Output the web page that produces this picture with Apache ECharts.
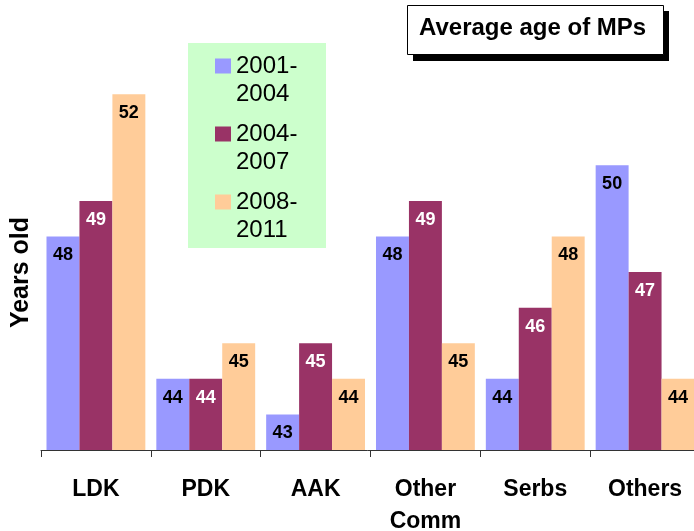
<!DOCTYPE html>
<html>
<head>
<meta charset="utf-8">
<script src="https://cdn.jsdelivr.net/npm/echarts@6/dist/echarts.min.js"></script>
<style>
  html, body { margin: 0; padding: 0; background: #fff; }
  #chart { width: 694px; height: 531px; }
</style>
</head>
<body>
<div id="chart"></div>
<script>
var categories = ['LDK', 'PDK', 'AAK', 'Other\nComm', 'Serbs', 'Others'];
var periods = ['2001-2004', '2004-2007', '2008-2011'];
var age2001 = [48, 44, 43, 48, 44, 50];
var age2004 = [49, 44, 45, 49, 46, 47];
var age2008 = [52, 45, 44, 45, 48, 44];
var colors = ['#9999FF', '#993366', '#FFCC99'];
var labelColors = ['#000', '#fff', '#000'];

var chart = echarts.init(document.getElementById('chart'));

var seriesData = [age2001, age2004, age2008];
var series = [];
for (var i = 0; i < periods.length; i++) {
  series.push({
    name: periods[i],
    type: 'bar',
    data: seriesData[i],
    barGap: '0%',
    barCategoryGap: '10%',
    itemStyle: { color: colors[i] },
    label: {
      show: true,
      position: 'insideTop',
      distance: 10,
      color: labelColors[i],
      fontFamily: 'Liberation Sans',
      fontWeight: 'bold',
      fontSize: 18
    }
  });
}

var option = {
  animation: false,
  color: colors,
  title: {
    text: 'Average age of MPs',
    left: 419,
    top: 16,
    padding: 0,
    textStyle: {
      fontFamily: 'Liberation Sans',
      fontWeight: 'bold',
      fontSize: 24,
      color: '#000'
    }
  },
  graphic: [
    // legend background
    {
      type: 'rect',
      shape: { x: 188, y: 43, width: 138, height: 205 },
      style: { fill: '#CCFFCC' },
      z: -1
    },
    // title box shadow + box
    {
      type: 'rect',
      shape: { x: 413, y: 11, width: 256, height: 50 },
      style: { fill: '#000' },
      z: 0
    },
    {
      type: 'rect',
      shape: { x: 407.5, y: 5.5, width: 256, height: 49 },
      style: { fill: '#fff', stroke: '#000', lineWidth: 1 },
      z: 1
    }
  ],
  legend: {
    orient: 'vertical',
    left: 215,
    top: 24,
    padding: 0,
    itemGap: -16,
    itemWidth: 16,
    itemHeight: 15,
    icon: 'rect',
    data: periods,
    // leading empty line keeps the square next to the first line
    formatter: function (name) { return '\n' + name.replace('-', '-\n'); },
    textStyle: {
      fontFamily: 'Liberation Sans',
      fontSize: 24,
      lineHeight: 28,
      color: '#000'
    }
  },
  grid: { left: 41, top: 23, width: 659, height: 427, outerBoundsMode: 'none' },
  xAxis: {
    type: 'category',
    data: categories,
    axisLine: { lineStyle: { color: '#333', width: 1 } },
    axisTick: { show: true, length: 7, lineStyle: { color: '#333' } },
    axisLabel: {
      interval: 0,
      margin: 24,
      color: '#000',
      fontFamily: 'Liberation Sans',
      fontWeight: 'bold',
      fontSize: 23,
      lineHeight: 32
    }
  },
  yAxis: {
    type: 'value',
    min: 42,
    max: 54,
    name: 'Years old',
    nameLocation: 'middle',
    nameGap: 7,
    nameTextStyle: {
      fontFamily: 'Liberation Sans',
      fontWeight: 'bold',
      fontSize: 25,
      color: '#000',
      padding: [0, 72, 0, 0]
    },
    axisLine: { show: false },
    axisTick: { show: false },
    axisLabel: { show: false },
    splitLine: { show: false }
  },
  series: series
};

chart.setOption(option);
</script>
</body>
</html>
